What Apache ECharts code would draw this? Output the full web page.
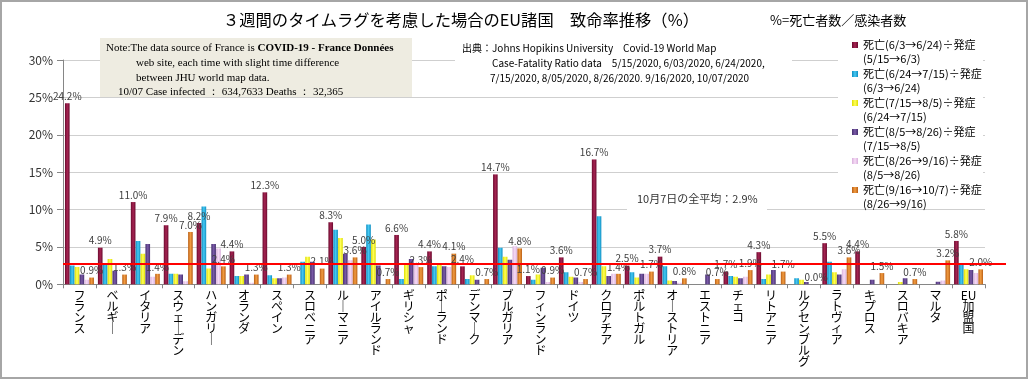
<!DOCTYPE html>
<html><head><meta charset="utf-8">
<script src="https://cdn.jsdelivr.net/npm/echarts@6/dist/echarts.min.js"></script>
<style>html,body{margin:0;padding:0;background:#fff}#c{width:1029px;height:383px}</style>
</head><body><div id="c"></div>
<script>
const categories = ['フランス','ベルギー','イタリア','スウェーデン','ハンガリー','オランダ','スペイン','スロベニア','ルーマニア','アイルランド','ギリシャ','ポーランド','デンマーク','ブルガリア','フィンランド','ドイツ','クロアチア','ポルトガル','オーストリア','エストニア','チェコ','リトアニア','ルクセンブルグ','ラトヴィア','キプロス','スロバキア','マルタ','EU加盟国'];
const seriesNames = ['死亡(6/3→6/24)÷発症\n(5/15→6/3)','死亡(6/24→7/15)÷発症\n(6/3→6/24)','死亡(7/15→8/5)÷発症\n(6/24→7/15)','死亡(8/5→8/26)÷発症\n(7/15→8/5)','死亡(8/26→9/16)÷発症\n(8/5→8/26)','死亡(9/16→10/7)÷発症\n(8/26→9/16)'];
const s1 = [24.2,4.9,11.0,7.9,8.2,4.4,12.3,null,8.3,5.0,6.6,4.4,2.4,14.7,1.1,3.6,16.7,2.5,3.7,null,1.7,4.3,null,5.5,4.4,null,null,5.8];
const s2 = [2.5,2.7,5.8,1.4,10.4,1.1,1.2,3.0,7.3,8.0,0.7,2.4,0.7,4.9,0.6,1.6,9.1,1.6,2.4,0,1.1,0.7,0.8,3.0,0,0,0,2.7];
const s3 = [2.3,3.4,4.1,1.4,2.1,1.1,0.8,3.7,6.2,6.0,2.7,2.6,1.2,3.7,1.3,1.0,2.4,0.9,0.5,0,1.0,1.3,0.6,1.6,0,0.3,0,2.0];
const s4 = [1.3,1.8,5.4,1.3,5.4,1.3,0.8,3.0,4.1,2.5,3.4,2.4,0.6,3.3,2.2,0.9,1.1,1.4,0.45,1.3,0.8,1.9,0.3,1.3,0.6,0.8,0.35,1.9];
const s5 = [0.6,0,1.0,0.4,4.8,0.2,0.9,0,3.2,0,2.6,2.3,0,5.1,0.3,0.3,1.4,1.4,0.2,0,1.0,0,0,2.0,0,0,0.5,1.5];
const s6 = [0.9,1.3,1.4,7.0,2.4,1.3,1.3,2.1,3.6,0.7,2.3,4.1,0.7,4.8,0.9,0.7,1.4,1.7,0.8,0.7,1.9,1.7,0.0,3.6,1.5,0.7,3.2,2.0];
const yMin = 0, yMax = 30, yStep = 5;
const avgLineValue = 2.7;
const avgText = '10月7日の全平均：2.9%';
const titleText = '３週間のタイムラグを考慮した場合のEU諸国　致命率推移（%）';
const formulaText = '%=死亡者数／感染者数';
const noteLines = ['web site, each time with slight time difference','between JHU world map data.','10/07 Case infected ： 634,7633 Deaths ： 32,365'];
const sourceLines = ['出典：Johns Hopikins University　Covid-19 World Map','Case-Fatality Ratio data　5/15/2020, 6/03/2020, 6/24/2020,','7/15/2020, 8/05/2020, 8/26/2020. 9/16/2020, 10/07/2020'];

const JP = "'Noto Sans CJK JP', sans-serif";
const NARROW = "'Liberation Sans Narrow', 'Noto Sans CJK JP', sans-serif";
const SERIF = "'Liberation Serif', 'DejaVu Serif', serif";
const palette = [['#6a0a2e','#a62452'],['#0e8ec2','#46c8f2'],['#dede00','#ffff5a'],['#46306e','#7a5aa8'],['#d9b0dc','#f6dcf6'],['#b85e16','#f29c40']];
function grad(c){return new echarts.graphic.LinearGradient(0,0,1,0,[{offset:0,color:c[0]},{offset:0.5,color:c[1]},{offset:1,color:c[0]}]);}
const data = [s1,s2,s3,s4,s5,s6];

function vert(s){
  const parts = s.match(/[A-Za-z]+|./g) || [];
  return parts.map(ch => ch === 'ー' ? '｜' : ch).join('\n');
}
const icon = 'path://M0,0L10,0L10,10L0,10Z M0,33.3L0.01,33.3';

const chart = echarts.init(document.getElementById('c'), null, {renderer:'canvas'});
const series = data.map((d,i)=>({
  name: seriesNames[i], type:'bar', data:d,
  barGap:'5%', barCategoryGap:'12%',
  itemStyle:{color:grad(palette[i])},
  label:{show: i===0 || i===5, position:'top', distance:2, fontSize:10, fontFamily:NARROW, color:'#404040',
    formatter:p=> p.value==null ? '' : Number(p.value).toFixed(1)+'%'},
  z:2
}));

chart.setOption({
  animation:false,
  backgroundColor:'#fff',
  title:{text:titleText,left:218,top:7,textStyle:{fontSize:16.3,fontWeight:'normal',fontFamily:JP,color:'#000'}},
  grid:{left:63,top:60,width:922,height:224.3},
  legend:{orient:'vertical',left:852,top:38,itemWidth:6,itemHeight:20,itemGap:1,icon:icon,padding:0,
    textStyle:{fontSize:11,lineHeight:14,fontFamily:JP,color:'#000'}},
  xAxis:{type:'category',data:categories,boundaryGap:true,
    axisLine:{lineStyle:{color:'#868686'}},
    axisTick:{show:true,length:4,interval:0,lineStyle:{color:'#868686'}},
    axisLabel:{interval:0,margin:6,fontSize:12,lineHeight:11,fontFamily:JP,color:'#000',verticalAlign:'top',formatter:vert}},
  yAxis:{type:'value',min:yMin,max:yMax,interval:yStep,
    axisLine:{show:true,lineStyle:{color:'#868686'}},
    axisTick:{show:true,length:6,lineStyle:{color:'#868686'}},
    axisLabel:{formatter:'{value}%',fontSize:12,fontFamily:JP,color:'#333',margin:10},
    splitLine:{lineStyle:{color:'#cfcfcf'}}},
  series
});

const yAvg = chart.convertToPixel({yAxisIndex:0}, avgLineValue);
const gfx = [
  {type:'rect',z:1,shape:{x:100,y:38,width:312,height:59},style:{fill:'#EEECE1'}},
  {type:'text',z:3,x:106,y:48,style:{text:'{a|Note:The data source of France is }{b|COVID-19 - France Données}',verticalAlign:'middle',
     rich:{a:{fontSize:11,fontFamily:SERIF,fill:'#000'},b:{fontSize:11,fontFamily:SERIF,fontWeight:'bold',fill:'#000'}}}},
  {type:'text',z:3,x:136,y:63,style:{text:noteLines[0],fontSize:11,fontFamily:SERIF,fill:'#000',verticalAlign:'middle'}},
  {type:'text',z:3,x:136,y:78,style:{text:noteLines[1],fontSize:11,fontFamily:SERIF,fill:'#000',verticalAlign:'middle'}},
  {type:'text',z:3,x:118,y:92,style:{text:noteLines[2],fontSize:11,fontFamily:SERIF,fill:'#000',verticalAlign:'middle'}},
  {type:'rect',z:1,shape:{x:455,y:38,width:337,height:52},style:{fill:'#fff'}},
  {type:'text',z:3,x:462,y:48,style:{text:sourceLines[0],fontSize:10,fontFamily:NARROW,fill:'#000',verticalAlign:'middle'}},
  {type:'text',z:3,x:492,y:63,style:{text:sourceLines[1],fontSize:10,fontFamily:NARROW,fill:'#000',verticalAlign:'middle'}},
  {type:'text',z:3,x:490,y:78,style:{text:sourceLines[2],fontSize:10,fontFamily:NARROW,fill:'#000',verticalAlign:'middle'}},
  {type:'rect',z:1,shape:{x:838,y:35,width:145,height:171},style:{fill:'#fff'}},
  {type:'rect',z:1,shape:{x:627,y:189,width:140,height:26},style:{fill:'#fff'}},
  {type:'text',z:3,x:637,y:199,style:{text:avgText,fontSize:11,fontFamily:JP,fill:'#333',verticalAlign:'middle'}},
  {type:'text',z:3,x:770,y:20,style:{text:formulaText,fontSize:13,fontFamily:JP,fill:'#000',verticalAlign:'middle'}},
  {type:'line',z:5,shape:{x1:63,y1:yAvg,x2:1006,y2:yAvg},style:{stroke:'#ff0000',lineWidth:2}},
  {type:'rect',z:6,shape:{x:1,y:1,width:1026,height:377},style:{fill:null,stroke:'#a6a6a6',lineWidth:2}}
];
chart.setOption({graphic:gfx});
</script></body></html>
